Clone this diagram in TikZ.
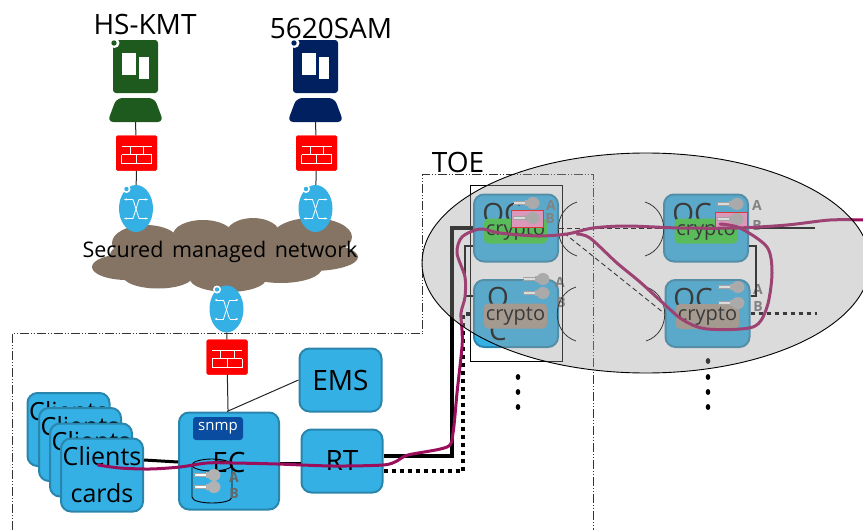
\documentclass[tikz,border=0pt]{standalone}
\usepackage{fontspec}
\setmainfont{Open Sans}
\usetikzlibrary{shapes.geometric,arrows.meta}

\definecolor{boxblue}{HTML}{35B0E5}
\definecolor{boxedge}{HTML}{2A85AD}
\definecolor{snmpblue}{HTML}{0A4DA0}
\definecolor{cloudbrown}{HTML}{857464}
\definecolor{kmtgreen}{HTML}{1E5A1E}
\definecolor{samblue}{HTML}{00205F}
\definecolor{pathpurple}{HTML}{9B0E5C}
\definecolor{cryptogreen}{HTML}{33CC33}
\definecolor{cryptotaupe}{HTML}{AA9988}
\definecolor{keypink}{HTML}{FF96CC}
\definecolor{toegray}{HTML}{9E9E9E}

\tikzset{
    bigbox/.style={draw=boxedge, fill=boxblue, line width=2pt, rounded corners=10pt, inner sep=0pt},
    bigtext/.style={font=\fontsize{28}{33}\selectfont, inner sep=0pt},
    clientbox/.style={bigbox, minimum width=82pt, minimum height=73pt, align=center, font=\fontsize{25}{37}\selectfont},
    cryptobox/.style={rounded corners=4pt, minimum width=63pt, minimum height=25pt, inner sep=0pt, font=\fontsize{20}{22}\selectfont},
    firewall/.style={fill=red, rounded corners=1.5pt, minimum width=41pt, minimum height=35pt, inner sep=0pt},
    switchnode/.style={ellipse, fill=boxblue, minimum width=34pt, minimum height=47pt, inner sep=0pt},
    wire/.style={black!85, line width=1pt},
    trunk/.style={black, line width=3.5pt},
    trunkdots/.style={black, line width=4pt, dash pattern=on 4pt off 4pt},
    framedash/.style={black!80, line width=1pt, dash pattern=on 9pt off 2pt on 1pt off 2pt on 1pt off 2pt},
    purplepath/.style={pathpurple, line width=3pt, line cap=round, line join=round},
    keyletter/.style={black!55, font=\fontsize{14}{14}\selectfont\bfseries, inner sep=0pt},
}

\newcommand{\keyicon}[2]{
    \fill[white] (#1+1,#2-2) rectangle (#1+17,#2+2);
    \draw[black!35, line width=.7pt] (#1,#2-1.6) -- (#1+17,#2-1.6);
    \draw[black!35, line width=.7pt] (#1,#2+1.6) -- (#1+17,#2+1.6);
    \fill[black!30] (#1+20,#2) ellipse (6.5 and 6);
    \fill[black!30] (#1+12,#2-3) rectangle (#1+17,#2+3);
}

\begin{document}
\begin{tikzpicture}[x=1pt, y=-1pt]
    \useasboundingbox (0,0) rectangle (863,530);

    % the frame of the target
    \draw[framedash] (12,530) -- (12,333.5) -- (422.5,333.5) -- (422.5,174) -- (593.7,174) -- (593.7,530);

    % cloud
    \foreach \x/\y/\rx/\ry in {146/243/34/18, 203/235/30/15, 253/234/27/16, 312/237/40/19, 312/257/46/14,
                               281/268/41/15, 228/279/38/13, 158/276/35/12.5, 127/267/35/13, 220/255/110/24} {
        \fill[cloudbrown] (\x,\y) ellipse (\rx pt and \ry pt);
    }
    \node[font=\fontsize{21.5}{24}\selectfont, inner sep=0pt] (cloudtext) at (220,252) {Secured\hspace{3pt} managed\hspace{3pt} network};

    % stations
    \foreach \n/\x/\c in {kmt/135.5/kmtgreen, sam/315.5/samblue} {
        \node[fill=\c, rounded corners=3pt, minimum width=45pt, minimum height=53pt, inner sep=0pt] (\n) at (\x,66.5) {};
        \fill[\c, rounded corners=6pt] (\x-28,122) -- (\x-19,98) -- (\x+19,98) -- (\x+28,122) -- cycle;
        \coordinate (base\n) at (\x,122);
        \fill[white] (\x-13.5,53) rectangle (\x+.5,75);
        \fill[white] (\x+3.5,57) rectangle (\x+13.5,79);
        \fill[white] (\x-21,43) circle (5);
        \fill[\c] (\x-21.5,43) circle (2.7);
    }
    \node[bigtext] (kmttext) at (145,24) {HS-KMT};
    \node[bigtext] (samtext) at (331,28) {5620SAM};

    % firewalls and switches
    \foreach \n/\x/\y in {kmtwall/136.5/153, samwall/316.5/153, ecwall/227/357} {
        \node[firewall] (\n) at (\x,\y) {};
    }
    \foreach \n/\x/\y in {kmtswitch/136/208.5, samswitch/315.5/208.5, ecswitch/226.5/309} {
        \node[switchnode] (\n) at (\x,\y) {};
    }
    \draw[wire] (basekmt) -- (kmtwall);
    \draw[wire] (kmtwall) -- (kmtswitch);
    \draw[wire] (basesam) -- (samwall);
    \draw[wire] (samwall) -- (samswitch);
    \foreach \n/\x/\y in {kmtwall/136.5/153, samwall/316.5/153, ecwall/227/357} {
        \node[firewall] at (\x,\y) {};
        \draw[white, line width=.8pt] (\x-15,\y-7) -- (\x+15,\y-7);
        \draw[white, line width=.8pt] (\x-15,\y+1.5) -- (\x+15,\y+1.5);
        \draw[white, line width=.8pt] (\x-15,\y+10.5) -- (\x+15,\y+10.5);
        \draw[white, line width=.8pt] (\x-6.5,\y-7) -- (\x-6.5,\y+1.5);
        \draw[white, line width=.8pt] (\x+7,\y-7) -- (\x+7,\y+1.5);
        \draw[white, line width=.8pt] (\x-15,\y+1.5) -- (\x-15,\y+10.5);
        \draw[white, line width=.8pt] (\x,\y+1.5) -- (\x,\y+10.5);
        \draw[white, line width=.8pt] (\x+15,\y+1.5) -- (\x+15,\y+10.5);
    }
    \foreach \x/\y in {136/208.5, 315.5/208.5, 226.5/309} {
        \draw[white, line width=.8pt, -{Stealth[length=3pt]}] (\x-3,\y-9) -- (\x-12,\y-9);
        \draw[white, line width=.8pt, -{Stealth[length=3pt]}] (\x+3,\y-9) -- (\x+12,\y-9);
        \draw[white, line width=.8pt, -{Stealth[length=3pt]}] (\x+3,\y+10) -- (\x+12,\y+10);
        \draw[white, line width=.8pt, -{Stealth[length=3pt]}] (\x-3,\y+10) -- (\x-12,\y+10);
        \draw[white, line width=.8pt] (\x-3,\y-9) .. controls (\x,\y) .. (\x+3,\y+10);
        \draw[white, line width=.8pt] (\x+3,\y-9) .. controls (\x,\y) .. (\x-3,\y+10);
        \fill[white] (\x-9.5,\y-19.5) circle (4);
        \fill[boxblue] (\x-9.5,\y-19.5) circle (2.2);
    }

    % lower row
    \foreach \n/\x/\y in {clienta/68.5/429.5, clientb/80/444.5, clientc/91/460} {
        \node[clientbox] (\n) at (\x,\y) {Clients\\cards};
    }
    \node[bigbox, minimum width=100pt, minimum height=97pt] (ec) at (229,461) {};
    \node[bigtext] (ectext) at (229,462) {EC};
    \node[fill=snmpblue, text=white, rounded corners=3pt, minimum width=50pt, minimum height=23pt, inner sep=0pt,
          font=\fontsize{15}{16}\selectfont] (snmp) at (218,428.5) {snmp};
    \node[bigbox, bigtext, minimum width=82pt, minimum height=63pt] (ems) at (340.5,380) {EMS};
    \node[bigbox, bigtext, minimum width=81pt, minimum height=63pt] (rt) at (342,461) {RT};
    \node[clientbox] (clientd) at (102,475) {Clients\\cards};

    % cylinder with the keys
    \draw[black, line width=.9pt] (192,465) -- (192,497) .. controls (192,505) and (232,505) .. (232,497) -- (232,465);
    \draw[black, line width=.9pt] (212,465) ellipse (20 and 6);
    \keyicon{194}{475}
    \keyicon{194}{487}
    \node[keyletter, text=black!60] (ecA) at (234,477) {A};
    \node[keyletter, text=black!60] (ecB) at (234,493) {B};

    % wires of the lower row
    \draw[wire] (ecswitch) -- (ecwall);
    \draw[wire] (ecwall) -- (ec);
    \draw[wire] ([xshift=-2pt]ec.north) -- (ems.west);
    \draw[black, line width=3pt] ([yshift=15pt]clientd.east) -- ([yshift=-1pt]ec.west);
    \draw[black, line width=2pt] ([yshift=-2pt]ec.east) -- ([yshift=-2pt]rt.west);

    % OC boxes
    \foreach \n/\x/\y in {oca/516/228, occ/706/228, ocb/516/313.5, ocd/707.5/313.5} {
        \node[bigbox, minimum width=84pt, minimum height=67pt] (\n) at (\x,\y) {};
    }
    \node[bigtext] (ocatext) at (502,213) {OC};
    \node[bigtext] (occtext) at (692,213) {OC};
    \node[bigtext] (ocdtext) at (693,298) {OC};
    \node[bigtext, align=center] (ocbtext) at (498,314) {O\\C};
    \foreach \n/\x/\y/\c in {cra/515.5/231/cryptogreen, crc/706/231/cryptogreen, crb/515.5/316/cryptotaupe, crd/707.5/316.5/cryptotaupe} {
        \node[cryptobox, fill=\c] (\n) at (\x,\y) {crypto};
    }

    % keys
    \node[draw=red, line width=1pt, fill=keypink, minimum width=32pt, minimum height=17pt, inner sep=0pt] (keya) at (527,218.5) {};
    \node[draw=red, line width=1pt, fill=keypink, minimum width=32pt, minimum height=16pt, inner sep=0pt] (keyc) at (731,220) {};
    \foreach \x/\y in {513/203, 513/218, 523/279, 523/293, 717/204, 717/219, 718/287, 718/303} {
        \keyicon{\x}{\y}
    }
    \foreach \x/\y/\t in {551/205/A, 550/219/B, 560/282/A, 561/303/B, 757/205/A, 757/226/B, 758/289/A, 758/307/B} {
        \node[keyletter] at (\x,\y) {\t};
    }

    % brackets
    \foreach \x/\y in {577/202, 576/287} {
        \draw[black, line width=.8pt] (\x,\y) .. controls (\x-25,\y+8) and (\x-25,\y+46) .. (\x,\y+54);
    }
    \foreach \x/\y in {645/202, 646/287} {
        \draw[black, line width=.8pt] (\x,\y) .. controls (\x+25,\y+8) and (\x+25,\y+46) .. (\x,\y+54);
    }

    % links
    \coordinate (trunktop) at (452,228);
    \coordinate (trunkbottom) at (452,456);
    \coordinate (dotstop) at (463,313.5);
    \coordinate (dotsbottom) at (463,471);
    \coordinate (linkleft) at (465,246);
    \coordinate (linkleftb) at (465,296);
    \coordinate (linkright) at (756,246);
    \coordinate (linkrightb) at (756,296);
    \coordinate (outa) at (815,228);
    \coordinate (outb) at (817,313.5);
    \draw[trunk] ([yshift=5pt]rt.east) -- (trunkbottom) -- (trunktop) -- (oca.west);
    \draw[trunkdots] ([yshift=-10pt]rt.east) -- (dotsbottom) -- (dotstop) -- (ocb.west);
    \draw[black, line width=2.5pt] ([yshift=-18pt]oca.west) -- (linkleft) -- (linkleftb) -- ([yshift=17.5pt]ocb.west);
    \draw[black, line width=2.5pt] ([yshift=-18pt]occ.east) -- (linkright) -- (linkrightb) -- ([yshift=17.5pt]ocd.east);
    \draw[black, line width=1.5pt] (occ.east) -- (outa);
    \draw[black, line width=3pt, dash pattern=on 4pt off 4pt] (ocd.east) -- (outb);
    \draw[black, line width=.9pt, dash pattern=on 5pt off 3pt] (oca.east) -- (occ.west);
    \draw[black, line width=.9pt, dash pattern=on 5pt off 3pt] ([shift={(5pt,-5pt)}]oca.east) -- (ocd.west);

    % box round the two left OC
    \node[draw=black, line width=.8pt, minimum width=92pt, minimum height=176pt, inner sep=0pt] (pair) at (516,273) {};

    % the path
    \draw[purplepath] plot[smooth, tension=.5] coordinates {(98,465) (120,468) (150,469) (180,467) (207,463) (233,463) (277,464) (333,466)
        (383,465) (397,461) (408,455) (447,447) (453,433) (457,393) (462,347) (462,330) (461,313) (465,297) (465,277) (457,253)
        (462,237) (480,229) (500,233) (537,236) (567,234) (593,228) (627,226) (680,228) (737,228) (787,225) (830,220) (865,220)};
    \draw[purplepath] plot[smooth, tension=.5] coordinates {(720,224) (740,228) (767,247) (772,273) (767,307) (753,327) (707,329)
        (683,320) (663,303) (640,282) (617,263) (590,238) (577,234)};

    \foreach \y in {377,392,407} {
        \fill[black] (518,\y) ellipse (2.3 and 3);
    }
    \foreach \y in {361,377,392,407} {
        \fill[black] (708,\y) ellipse (2.3 and 3);
    }

    % the grey ellipse lies over everything
    \node[ellipse, draw=black, line width=.9pt, fill=toegray, fill opacity=.37, draw opacity=1,
          minimum width=448pt, minimum height=220pt, inner sep=0pt] (toe) at (646,263) {};
    \node[bigtext] (toetext) at (458,162) {TOE};
\end{tikzpicture}
\end{document}
